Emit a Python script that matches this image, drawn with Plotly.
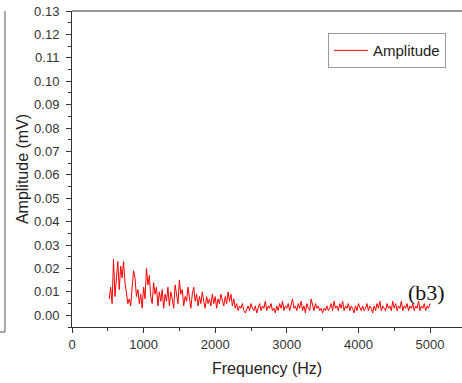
import numpy as np
import plotly.graph_objects as go

freq_start = 520
freq_step = 20
amplitude = [
    0.007, 0.012, 0.005, 0.024, 0.008, 0.018, 0.023, 0.011, 0.021, 0.016,
    0.023, 0.014, 0.009, 0.005, 0.007, 0.004, 0.012, 0.019, 0.016, 0.008,
    0.011, 0.005, 0.009, 0.003, 0.012, 0.007, 0.020, 0.013, 0.017, 0.008,
    0.005, 0.014, 0.009, 0.012, 0.004, 0.010, 0.006, 0.011, 0.003, 0.009,
    0.006, 0.012, 0.004, 0.010, 0.007, 0.003, 0.013, 0.008, 0.005, 0.015,
    0.009, 0.011, 0.004, 0.008, 0.006, 0.012, 0.007, 0.003, 0.009, 0.012,
    0.006, 0.009, 0.004, 0.008, 0.005, 0.010, 0.006, 0.003, 0.008, 0.005,
    0.007, 0.004, 0.009, 0.005, 0.008, 0.003, 0.007, 0.005, 0.009, 0.006,
    0.004, 0.008, 0.005, 0.010, 0.006, 0.009, 0.004, 0.007, 0.003, 0.005,
    0.002, 0.004, 0.003, 0.005, 0.002, 0.001, 0.003, 0.004, 0.002, 0.005,
    0.003, 0.002, 0.004, 0.001, 0.003, 0.005, 0.002, 0.004, 0.003, 0.006,
    0.002, 0.004, 0.003, 0.005, 0.002, 0.003, 0.001, 0.004, 0.002, 0.005,
    0.003, 0.006, 0.002, 0.004, 0.003, 0.005, 0.002, 0.004, 0.007, 0.003,
    0.004, 0.002, 0.005, 0.003, 0.006, 0.002, 0.004, 0.001, 0.005, 0.003,
    0.002, 0.007, 0.004, 0.002, 0.005, 0.003, 0.004, 0.002, 0.003, 0.001,
    0.003, 0.002, 0.004, 0.002, 0.003, 0.005, 0.002, 0.006, 0.003, 0.004,
    0.002, 0.005, 0.003, 0.006, 0.002, 0.004, 0.003, 0.005, 0.002, 0.004,
    0.003, 0.001, 0.004, 0.002, 0.005, 0.003, 0.002, 0.004, 0.002, 0.003,
    0.005, 0.002, 0.004, 0.003, 0.001, 0.004, 0.002, 0.005, 0.003, 0.006,
    0.002, 0.004, 0.003, 0.002, 0.005, 0.003, 0.004, 0.002, 0.006, 0.003,
    0.005, 0.002, 0.004, 0.003, 0.006, 0.002, 0.004, 0.003, 0.005, 0.002,
    0.004, 0.003, 0.005, 0.002, 0.004, 0.003, 0.006, 0.002, 0.004, 0.003,
    0.005, 0.002, 0.004, 0.003, 0.005,
]
freq = freq_start + freq_step * np.arange(len(amplitude))

x_ticks = [0, 1000, 2000, 3000, 4000, 5000]
y_ticks = [round(0.01 * i, 2) for i in range(14)]
y_tick_text = [f"{v:.2f}" for v in y_ticks]

FONT = "Liberation Sans, Arial, sans-serif"

fig = go.Figure()
fig.add_trace(go.Scatter(x=freq, y=amplitude, mode="lines", name="Amplitude",
                         line=dict(color="#ff0000", width=1)))

fig.update_layout(
    width=462, height=383,
    margin=dict(l=72, r=0, t=11, b=56, autoexpand=False),
    paper_bgcolor="white", plot_bgcolor="white",
    font=dict(family=FONT, color="#222222"),
    showlegend=True,
    legend=dict(x=0.959, y=0.93, xanchor="right", yanchor="top",
                bordercolor="#999999", borderwidth=1, bgcolor="white",
                font=dict(size=15, family=FONT, color="#222222"),
                tracegroupgap=0, itemwidth=34),
    xaxis=dict(range=[0, 5447], tickvals=x_ticks, ticks="outside", ticklen=5,
               tickcolor="#333333", showline=True, linecolor="#333333", linewidth=1,
               mirror=False, showgrid=False, zeroline=False, automargin=False,
               minor=dict(dtick=500, ticks="outside", ticklen=3, tickcolor="#333333"),
               tickfont=dict(size=13, family=FONT, color="#333333"),
               title=dict(text="Frequency (Hz)", font=dict(size=16, family=FONT, color="#222222"),
                          standoff=12)),
    yaxis=dict(range=[-0.005, 0.13], tickvals=y_ticks, ticktext=y_tick_text,
               ticks="outside", ticklen=5, tickcolor="#333333",
               showline=True, linecolor="#333333", linewidth=1,
               showgrid=False, zeroline=False, automargin=False,
               ticklabeloverflow="allow", ticklabelstandoff=4,
               minor=dict(dtick=0.005, tick0=0, ticks="outside", ticklen=3, tickcolor="#333333"),
               tickfont=dict(size=13, family=FONT, color="#333333"),
               title=dict(text="Amplitude (mV)", font=dict(size=16, family=FONT, color="#222222"),
                          standoff=1)),
    shapes=[
        dict(type="line", xref="paper", yref="paper", x0=0, x1=1, y0=1, y1=1,
             line=dict(color="#333333", width=1)),
        dict(type="line", xref="paper", yref="paper", x0=-0.1718, x1=-0.1718, y0=1, y1=-0.016,
             line=dict(color="#555555", width=1)),
        dict(type="line", xref="paper", yref="paper", x0=-0.19, x1=-0.1718, y0=-0.016, y1=-0.016,
             line=dict(color="#555555", width=1)),
    ],
    annotations=[
        dict(x=4958, y=0.0098, xref="x", yref="y", text="(b3)", showarrow=False,
             font=dict(family="Liberation Serif, Times New Roman, serif", size=22, color="#111111")),
    ],
)

fig.write_html("out.html", config={"displayModeBar": False},
               post_script="document.body.style.margin='0px';")
